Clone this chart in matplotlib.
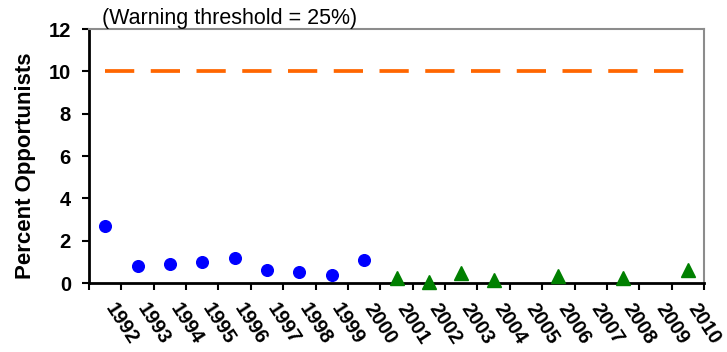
import numpy as np
import matplotlib.pyplot as plt
import matplotlib.transforms as mtransforms

years = [str(y) for y in range(1992, 2011)]

# blue circles (early period), NaN where no value plotted
early_pct = [2.7, 0.8, 0.9, 1.0, 1.2, 0.6, 0.5, 0.4, 1.1,
             np.nan, np.nan, np.nan, np.nan, np.nan, np.nan, np.nan, np.nan, np.nan, np.nan]
# green triangles (later period)
late_pct = [np.nan, np.nan, np.nan, np.nan, np.nan, np.nan, np.nan, np.nan, np.nan,
            0.25, 0.05, 0.45, 0.15, np.nan, 0.35, np.nan, 0.25, np.nan, 0.63]
threshold = [10] * len(years)

plt.rcParams["font.family"] = ["Liberation Sans", "DejaVu Sans"]

fig = plt.figure(figsize=(7.27, 3.52), dpi=100)
ax = fig.add_axes([0.1224, 0.196, 0.846, 0.7216])

x = np.arange(len(years))
ax.plot(x, threshold, color="#FF6600", lw=2.7, dashes=(7.8, 4.4))
ax.plot(x, early_pct, "o", color="#0000FF", ms=8.4, ls="none", clip_on=False, zorder=5)
ax.plot(x, late_pct, "^", color="#008000", ms=10, ls="none", clip_on=False, zorder=5)

ax.set_xlim(-0.5, len(years) - 0.5)
ax.set_ylim(0, 12)
ax.set_yticks(range(0, 13, 2))
ax.set_yticklabels([str(v) for v in range(0, 13, 2)], fontsize=14.5, fontweight="bold")

ax.set_xticks(np.arange(-0.5, len(years)), minor=False)
ax.set_xticklabels([])
ax.set_xticks(x, minor=True)
ax.set_xticklabels(years, minor=True, fontsize=14.5, fontweight="bold",
                   rotation=-57, ha="left", va="center", rotation_mode="anchor")
ax.tick_params(axis="x", which="minor", length=0, pad=16)
ax.tick_params(axis="x", which="major", direction="out", length=5, width=1.5)
ax.tick_params(axis="y", direction="out", length=5, width=1.5, pad=8)

# nudge the rotated year labels a little to the right
shift = mtransforms.ScaledTranslation(4 / 100, 0, fig.dpi_scale_trans)
for lab in ax.get_xticklabels(minor=True):
    lab.set_transform(lab.get_transform() + shift)

for side in ["left", "bottom"]:
    ax.spines[side].set_color("black")
    ax.spines[side].set_linewidth(2)
for side in ["top", "right"]:
    ax.spines[side].set_color("#8c8c8c")
    ax.spines[side].set_linewidth(1.5)

ax.set_ylabel("Percent Opportunists", fontsize=16, fontweight="bold")
ax.yaxis.set_label_coords(-0.086, 0.463)

ax.text(0.021, 1.0, "(Warning threshold = 25%)", transform=ax.transAxes,
        fontsize=15.5, ha="left", va="bottom")

fig.savefig("out.png", dpi=100)
